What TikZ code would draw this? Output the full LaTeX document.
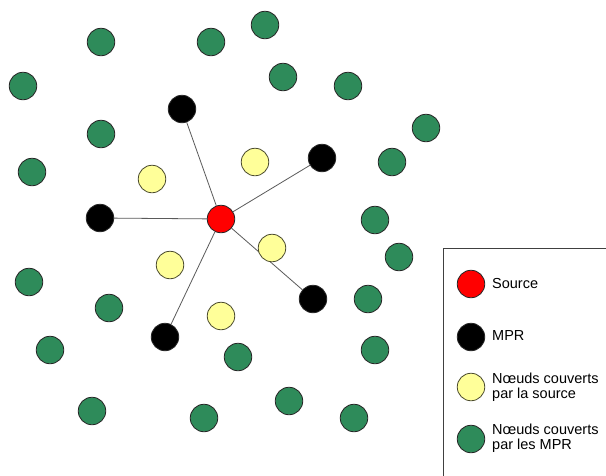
\documentclass[tikz,border=0pt]{standalone}
\usepackage{fontspec}
\setmainfont{Liberation Sans}
\definecolor{grn}{RGB}{46,139,90}
\definecolor{ylw}{RGB}{255,255,153}
\definecolor{edg}{RGB}{90,90,90}
\tikzset{
  px/.style={x=1pt,y=-1pt},
  dot/.style={circle,draw=black!85,line width=0.8pt,minimum size=27.5pt,inner sep=0pt},
  src/.style={dot,fill=red},
  mpr/.style={dot,fill=black},
  cov/.style={dot,fill=ylw,draw=black!70!ylw},
  far/.style={dot,fill=grn},
  link/.style={draw=edg,line width=0.8pt},
  lbl/.style={anchor=west,font=\fontsize{14.5}{15}\selectfont,align=left,inner sep=0pt},
}
\begin{document}
\begin{tikzpicture}[px]
\useasboundingbox (0,0) rectangle (606,475);
\clip (0,0) rectangle (606,475);
\fill[white] (0,0) rectangle (606,475);
% MPR nodes
\node[mpr] (m1) at (182,109) {};
\node[mpr] (m2) at (322,158) {};
\node[mpr] (m3) at (100,218) {};
\node[mpr] (m4) at (313,299) {};
\node[mpr] (m5) at (165,337) {};
\node[src] (s) at (221,219) {};
\foreach \m in {m1,m2,m3,m4,m5} \draw[link] (s) -- (\m);
% covered by source
\node[cov] (y1) at (152,179) {};
\node[cov] (y2) at (255,162) {};
\node[cov] (y3) at (272,248) {};
\node[cov] (y4) at (170,265) {};
\node[cov] (y5) at (221,316) {};
% covered by MPR
\node[far] (g1) at (101,42) {};
\node[far] (g2) at (211,42) {};
\node[far] (g3) at (265,25) {};
\node[far] (g4) at (23,86) {};
\node[far] (g5) at (283,77) {};
\node[far] (g6) at (348,86) {};
\node[far] (g7) at (101,134) {};
\node[far] (g8) at (32,172) {};
\node[far] (g9) at (426,128) {};
\node[far] (g10) at (392,162) {};
\node[far] (g11) at (375,220) {};
\node[far] (g12) at (399,257) {};
\node[far] (g13) at (29,282) {};
\node[far] (g14) at (109,308) {};
\node[far] (g15) at (368,299) {};
\node[far] (g16) at (375,350) {};
\node[far] (g17) at (50,350) {};
\node[far] (g18) at (238,357) {};
\node[far] (g19) at (92,411) {};
\node[far] (g20) at (204,418) {};
\node[far] (g21) at (289,401) {};
\node[far] (g22) at (354,418) {};
% legend
\draw[draw=black!75,line width=0.8pt] (443,490) -- (443,248) -- (620,248);
\node[src] (ls) at (471,284) {};
\node[mpr] (lm) at (471,337) {};
\node[cov] (ly) at (471,387) {};
\node[far] (lg) at (471,439) {};
\node[lbl] (ts) at (492,284) {Source};
\node[lbl] (tm) at (492,336) {MPR};
\node[lbl] (ty) at (492,387) {Nœuds couverts\\par la source};
\node[lbl] (tg) at (492,438) {Nœuds couverts\\par les MPR};
\end{tikzpicture}
\end{document}
